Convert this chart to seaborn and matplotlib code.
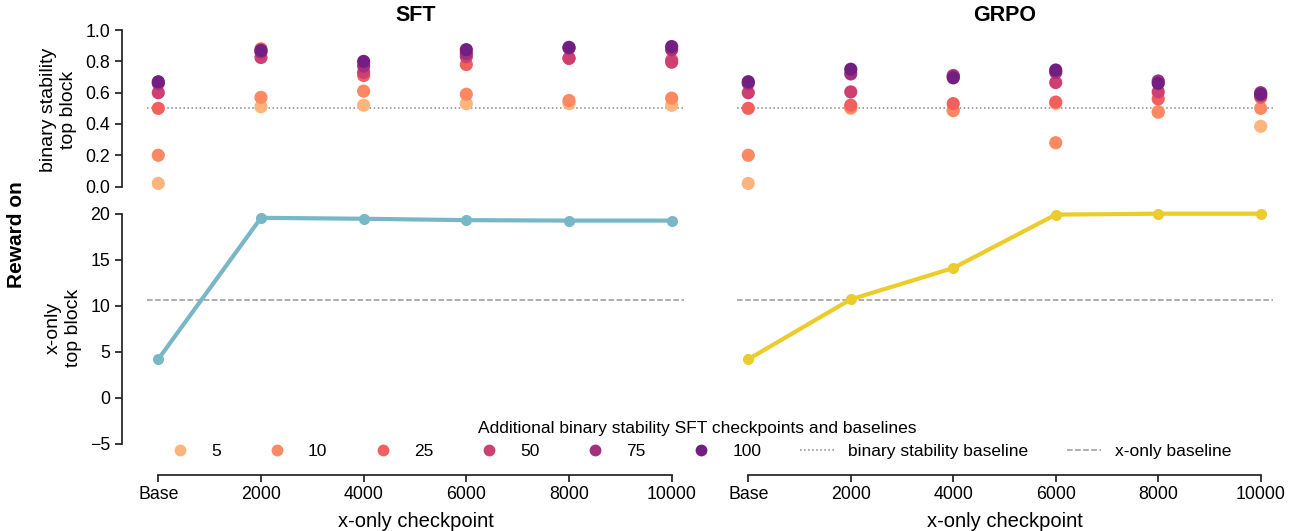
import numpy as np
import pandas as pd
import matplotlib
matplotlib.use('Agg')
import matplotlib.pyplot as plt
from matplotlib.lines import Line2D
import seaborn as sns

checkpoints = ['Base', '2000', '4000', '6000', '8000', '10000']
sizes = [5, 10, 25, 50, 75, 100]

# binary stability reward of the extra SFT checkpoints (rows = size, cols = checkpoint)
sft_binary = [
    [0.02, 0.51, 0.52, 0.53, 0.53, 0.52],
    [0.20, 0.57, 0.61, 0.59, 0.55, 0.565],
    [0.50, 0.88, 0.71, 0.78, 0.82, 0.81],
    [0.60, 0.825, 0.73, 0.83, 0.82, 0.795],
    [0.66, 0.86, 0.77, 0.85, 0.885, 0.875],
    [0.67, 0.87, 0.80, 0.875, 0.89, 0.895],
]
grpo_binary = [
    [0.02, 0.50, 0.49, 0.53, 0.48, 0.385],
    [0.20, 0.505, 0.485, 0.28, 0.475, 0.50],
    [0.50, 0.52, 0.53, 0.54, 0.56, 0.57],
    [0.60, 0.605, 0.71, 0.665, 0.605, 0.58],
    [0.66, 0.72, 0.705, 0.73, 0.675, 0.60],
    [0.67, 0.75, 0.695, 0.745, 0.66, 0.59],
]
sft_xonly = [4.2, 19.55, 19.45, 19.3, 19.25, 19.25]
grpo_xonly = [4.2, 10.7, 14.1, 19.9, 20.0, 20.0]
binary_baseline = 0.5
xonly_baseline = 10.65

sns.set_theme(style='ticks')
plt.rcParams['font.family'] = ['Liberation Sans', 'DejaVu Sans']
plt.rcParams.update({'text.color': 'black', 'axes.labelcolor': 'black',
                     'xtick.color': 'black', 'ytick.color': 'black',
                     'axes.edgecolor': '#222222'})

pal = ['#fdb47d', '#fc8961', '#f1605d', '#cd4071', '#a3307e', '#721f81']
line_cols = {'SFT': '#78B7C5', 'GRPO': '#EBCC2A'}

fig = plt.figure(figsize=(12.9, 5.31), dpi=100)
W, H = 1290, 531
def box(x0, x1, y0, y1):
    return [x0 / W, 1 - y1 / H, (x1 - x0) / W, (y1 - y0) / H]

xlim = (-0.11, 5.12)
cols = [('SFT', 147, 684, sft_binary, sft_xonly), ('GRPO', 737, 1273, grpo_binary, grpo_xonly)]
for i, (name, x0, x1, binv, xo) in enumerate(cols):
    at = fig.add_axes(box(x0, x1, 27, 192))
    ab = fig.add_axes(box(x0, x1, 205.4, 449.5))

    rows = []
    for si, s in enumerate(sizes):
        for ci in range(len(checkpoints)):
            rows.append({'x': ci, 'y': binv[si][ci], 'size': s})
    d = pd.DataFrame(rows)
    sns.scatterplot(data=d, x='x', y='y', hue='size', palette=pal, s=90,
                    linewidth=0, ax=at, legend=False, zorder=3)
    at.axhline(binary_baseline, color='#888888', ls=':', lw=1.1, zorder=1)
    at.set_xlim(xlim)
    at.set_ylim(-0.035, 1.02)
    at.set_title(name, fontsize=15.5, fontweight='bold', pad=4)

    dl = pd.DataFrame({'x': range(len(checkpoints)), 'y': xo})
    sns.lineplot(data=dl, x='x', y='y', color=line_cols[name], lw=3, marker='o',
                 markersize=8, markeredgewidth=0, ax=ab, zorder=3)
    ab.axhline(xonly_baseline, color='#999999', ls='--', lw=1.1, zorder=1)
    ab.set_xlim(xlim)
    ab.set_ylim(-5.6, 20.9)
    ab.set_xticks(range(len(checkpoints)))
    ab.set_xticklabels(checkpoints)
    ab.set_xlabel('x-only checkpoint', fontsize=14.5, labelpad=6)

    for a in (at, ab):
        a.tick_params(labelsize=12.8, length=5, color='#222222')
    sns.despine(ax=at, bottom=True, left=(i == 1))
    sns.despine(ax=ab, left=(i == 1))
    at.set_xticks([])
    at.set_xlabel('')
    if i == 0:
        at.spines['left'].set_position(('outward', 18))
        ab.spines['left'].set_position(('outward', 18))
        at.set_yticks(np.arange(0, 1.01, 0.2))
        at.set_yticklabels([f'{v:.1f}' for v in np.arange(0, 1.01, 0.2)])
        at.spines['left'].set_bounds(0, 1)
        ab.set_yticks([-5, 0, 5, 10, 15, 20])
        ab.set_yticklabels(['\u22125', '0', '5', '10', '15', '20'])
        ab.spines['left'].set_bounds(-5, 20)
        at.set_ylabel('binary stability\ntop block', fontsize=14, labelpad=6)
        ab.set_ylabel('x-only\ntop block', fontsize=14, labelpad=6)
    else:
        at.set_yticks([])
        ab.set_yticks([])
        at.set_ylabel('')
        ab.set_ylabel('')
    ab.spines['bottom'].set_position(('outward', 18))
    ab.spines['bottom'].set_bounds(0, 5)

fig.text(0.013, 1 - 235 / H, 'Reward on', rotation=90, fontsize=15,
         fontweight='bold', ha='center', va='center')

handles = [Line2D([], [], ls='none', marker='o', markersize=8.5, markeredgewidth=0,
                  color=pal[k]) for k in range(len(sizes))]
handles += [Line2D([], [], color='#888888', ls=':', lw=1.1),
            Line2D([], [], color='#999999', ls='--', lw=1.1)]
labels = [str(s) for s in sizes] + ['binary stability baseline', 'x-only baseline']
fig.legend(handles, labels, loc='center', bbox_to_anchor=(0.5405, 1 - 440 / H), ncol=8,
           frameon=False, fontsize=12.5, title='Additional binary stability SFT checkpoints and baselines',
           title_fontsize=12.5, columnspacing=2.2, handletextpad=0.8)

fig.savefig('out.png', dpi=100)
